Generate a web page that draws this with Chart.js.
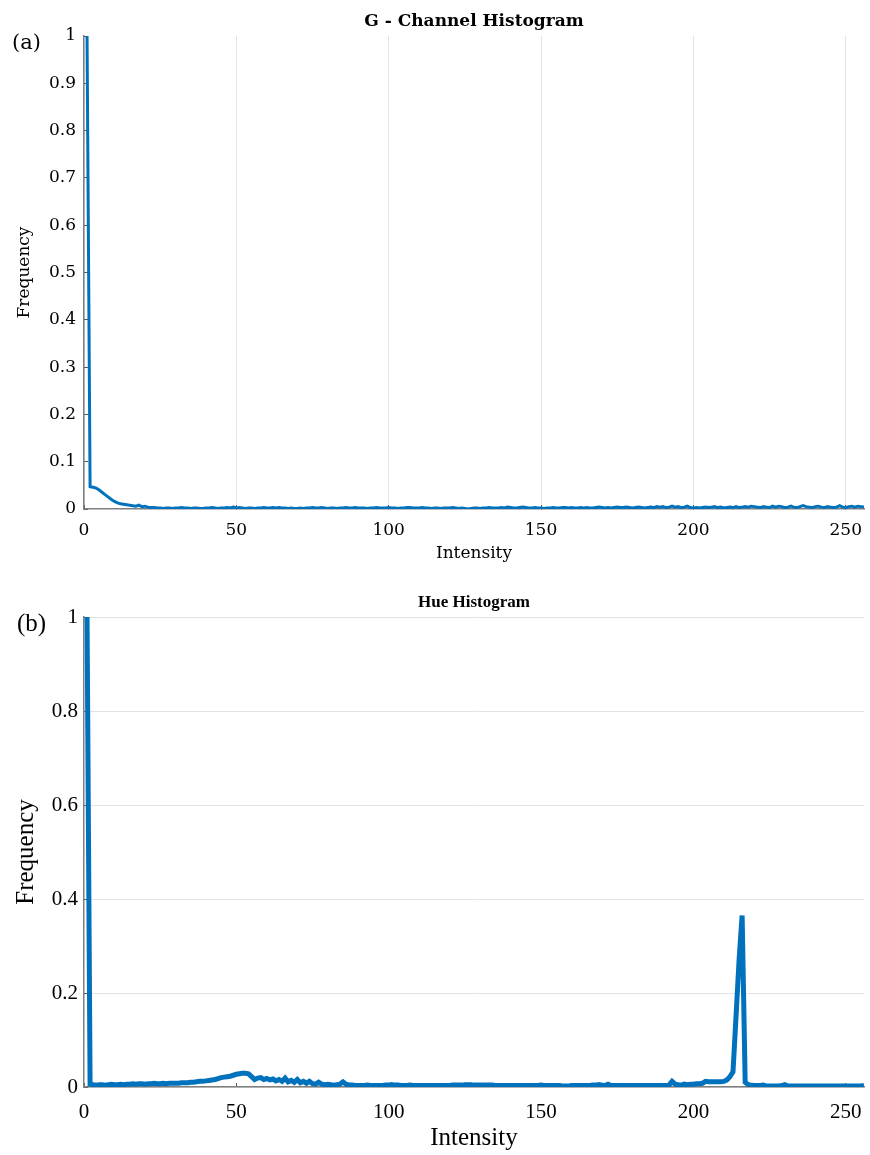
<!DOCTYPE html>
<html>
<head>
<meta charset="utf-8">
<script src="https://cdn.jsdelivr.net/npm/chart.js@4"></script>
<style>
  body { margin: 0; background: #fff; }
  .panel { position: absolute; left: 0; width: 870px; }
</style>
</head>
<body>
<div class="panel" style="top:0;height:575px"><canvas id="chartA" width="870" height="575"></canvas></div>
<div class="panel" style="top:575px;height:580px"><canvas id="chartB" width="870" height="580"></canvas></div>
<script>
// Intensity bins 1..256 (same for both histograms)
const intensity = Array.from({ length: 256 }, (_, i) => i + 1);

// Axis ticks
const xTicks = [0, 50, 100, 150, 200, 250];
const yTicksA = [0, 0.1, 0.2, 0.3, 0.4, 0.5, 0.6, 0.7, 0.8, 0.9, 1];
const yTicksB = [0, 0.2, 0.4, 0.6, 0.8, 1];

// (a) G - Channel histogram, normalised frequency
const gChannel = [
  1.0, 0.047, 0.046, 0.044, 0.04, 0.035, 0.03, 0.025, 0.02, 0.016,
  0.013, 0.011, 0.010, 0.009, 0.008, 0.007, 0.006, 0.008, 0.005, 0.006,
  0.004, 0.003, 0.003, 0.002, 0.002, 0.001, 0.002, 0.002, 0.001, 0.002,
  0.002, 0.003, 0.002, 0.002, 0.001, 0.002, 0.002, 0.001, 0.001, 0.002,
  0.002, 0.003, 0.002, 0.001, 0.002, 0.002, 0.003, 0.002, 0.004, 0.002,
  0.003, 0.002, 0.001, 0.002, 0.002, 0.001, 0.002, 0.002, 0.003, 0.002,
  0.002, 0.003, 0.002, 0.003, 0.002, 0.002, 0.001, 0.002, 0.001, 0.001,
  0.002, 0.001, 0.002, 0.002, 0.003, 0.002, 0.002, 0.003, 0.002, 0.001,
  0.002, 0.002, 0.001, 0.002, 0.002, 0.003, 0.002, 0.002, 0.003, 0.002,
  0.002, 0.002, 0.001, 0.002, 0.002, 0.003, 0.002, 0.002, 0.002, 0.003,
  0.002, 0.002, 0.001, 0.002, 0.002, 0.003, 0.003, 0.002, 0.002, 0.002,
  0.003, 0.002, 0.002, 0.001, 0.002, 0.002, 0.001, 0.002, 0.002, 0.002,
  0.003, 0.002, 0.001, 0.002, 0.001, 0.000, 0.001, 0.002, 0.002, 0.001,
  0.002, 0.002, 0.003, 0.002, 0.002, 0.002, 0.003, 0.002, 0.004, 0.003,
  0.002, 0.002, 0.003, 0.004, 0.003, 0.002, 0.002, 0.003, 0.002, 0.002,
  0.001, 0.002, 0.002, 0.003, 0.002, 0.002, 0.003, 0.003, 0.002, 0.003,
  0.002, 0.002, 0.003, 0.002, 0.003, 0.002, 0.002, 0.003, 0.004, 0.003,
  0.002, 0.003, 0.002, 0.003, 0.004, 0.003, 0.003, 0.004, 0.003, 0.002,
  0.003, 0.004, 0.003, 0.002, 0.003, 0.004, 0.003, 0.005, 0.004, 0.005,
  0.003, 0.004, 0.006, 0.004, 0.005, 0.003, 0.004, 0.006, 0.003, 0.002,
  0.003, 0.002, 0.003, 0.004, 0.003, 0.004, 0.005, 0.003, 0.004, 0.002,
  0.003, 0.004, 0.003, 0.005, 0.003, 0.004, 0.005, 0.004, 0.006, 0.005,
  0.004, 0.003, 0.005, 0.004, 0.003, 0.006, 0.004, 0.006, 0.005, 0.003,
  0.004, 0.006, 0.004, 0.003, 0.005, 0.007, 0.005, 0.004, 0.003, 0.005,
  0.006, 0.004, 0.003, 0.005, 0.004, 0.003, 0.004, 0.007, 0.004, 0.003,
  0.005, 0.006, 0.004, 0.006, 0.005, 0.004
];

// (b) Hue histogram, normalised frequency
const hue = [
  1.0, 0.006, 0.005, 0.004, 0.005, 0.005, 0.004, 0.005, 0.006, 0.005,
  0.005, 0.006, 0.005, 0.006, 0.006, 0.007, 0.006, 0.007, 0.007, 0.006,
  0.007, 0.007, 0.008, 0.007, 0.007, 0.008, 0.007, 0.008, 0.008, 0.008,
  0.008, 0.009, 0.009, 0.009, 0.010, 0.010, 0.011, 0.012, 0.012, 0.013,
  0.014, 0.015, 0.016, 0.018, 0.020, 0.021, 0.022, 0.023, 0.025, 0.027,
  0.028, 0.029, 0.029, 0.028, 0.022, 0.016, 0.019, 0.020, 0.016, 0.018,
  0.015, 0.017, 0.013, 0.016, 0.012, 0.019, 0.011, 0.014, 0.010, 0.016,
  0.009, 0.012, 0.008, 0.012, 0.007, 0.006, 0.010, 0.006, 0.005, 0.006,
  0.005, 0.004, 0.005, 0.006, 0.011, 0.006, 0.004, 0.004, 0.003, 0.003,
  0.003, 0.003, 0.004, 0.003, 0.003, 0.003, 0.003, 0.003, 0.004, 0.004,
  0.005, 0.004, 0.004, 0.003, 0.003, 0.003, 0.004, 0.003, 0.003, 0.003,
  0.003, 0.003, 0.003, 0.003, 0.003, 0.003, 0.003, 0.003, 0.003, 0.003,
  0.004, 0.004, 0.004, 0.004, 0.005, 0.005, 0.005, 0.004, 0.004, 0.004,
  0.004, 0.004, 0.004, 0.004, 0.003, 0.003, 0.003, 0.003, 0.003, 0.003,
  0.003, 0.003, 0.003, 0.003, 0.003, 0.003, 0.003, 0.003, 0.003, 0.004,
  0.003, 0.003, 0.003, 0.003, 0.003, 0.003, 0.002, 0.002, 0.002, 0.003,
  0.003, 0.003, 0.003, 0.003, 0.003, 0.003, 0.004, 0.004, 0.005, 0.004,
  0.003, 0.006, 0.003, 0.003, 0.003, 0.003, 0.003, 0.003, 0.003, 0.003,
  0.003, 0.003, 0.003, 0.003, 0.003, 0.003, 0.003, 0.003, 0.003, 0.003,
  0.003, 0.004, 0.012, 0.006, 0.005, 0.004, 0.006, 0.005, 0.006, 0.006,
  0.007, 0.007, 0.008, 0.012, 0.011, 0.011, 0.011, 0.011, 0.011, 0.012,
  0.015, 0.022, 0.032, 0.15, 0.27, 0.365, 0.010, 0.005, 0.004, 0.003,
  0.003, 0.003, 0.004, 0.002, 0.002, 0.002, 0.002, 0.002, 0.003, 0.005,
  0.002, 0.002, 0.002, 0.002, 0.002, 0.002, 0.002, 0.002, 0.002, 0.002,
  0.002, 0.002, 0.002, 0.002, 0.002, 0.002, 0.002, 0.002, 0.002, 0.002,
  0.002, 0.002, 0.002, 0.002, 0.002, 0.003
];

const lineBlue = '#0072BD';
const axisGray = '#7f7f7f';
const gridGray = '#e3e3e3';

// letter "(a)" / "(b)" in the top left corner
const panelLabel = {
  id: 'panelLabel',
  afterDraw(chart, args, o) {
    const c = chart.ctx;
    c.save();
    c.font = o.font;
    c.fillStyle = '#000';
    c.textBaseline = 'middle';
    c.fillText(o.text, o.x, o.y);
    c.restore();
  }
};

function toPoints(values) {
  return values.map((v, i) => ({ x: intensity[i], y: v }));
}

function makeChart(id, s) {
  return new Chart(document.getElementById(id), {
    type: 'line',
    data: {
      datasets: [{
        data: toPoints(s.values),
        borderColor: lineBlue,
        borderWidth: s.lineWidth,
        pointRadius: 0,
        tension: 0
      }]
    },
    plugins: [panelLabel],
    options: {
      responsive: false,
      animation: false,
      layout: { padding: s.padding },
      plugins: {
        legend: { display: false },
        tooltip: { enabled: false },
        title: {
          display: true,
          fullSize: false,
          text: s.title,
          color: '#000',
          font: { family: s.family, size: s.titleSize, weight: 'bold' },
          padding: s.titlePadding
        },
        panelLabel: s.label
      },
      scales: {
        x: {
          type: 'linear',
          min: 0,
          max: 256,
          afterBuildTicks: (scale) => { scale.ticks = xTicks.map(v => ({ value: v })); },
          afterFit: (scale) => {
            scale.height = s.xHeight;
            // end labels fit inside the layout padding, don't shrink the plot
            scale.paddingLeft = 0;
            scale.paddingRight = 0;
          },
          ticks: {
            color: '#000',
            padding: s.xTickPad,
            maxRotation: 0,
            font: { family: s.family, size: s.tickSize }
          },
          // negative tick length -> small marks pointing into the plot
          grid: {
            drawOnChartArea: s.vGrid,
            drawTicks: true,
            tickLength: -4,
            tickColor: '#555',
            color: gridGray
          },
          border: { display: true, color: axisGray, width: 1.5 },
          title: {
            display: true,
            text: 'Intensity',
            color: '#000',
            padding: 0,
            font: { family: s.family, size: s.axisTitleSize }
          }
        },
        y: {
          min: 0,
          max: 1,
          afterBuildTicks: (scale) => { scale.ticks = s.yTicks.map(v => ({ value: v })); },
          afterFit: (scale) => { scale.width = s.yWidth; },
          ticks: {
            color: '#000',
            padding: s.yTickPad,
            font: { family: s.family, size: s.tickSize },
            callback: (v) => String(v)
          },
          grid: {
            drawOnChartArea: s.hGrid,
            drawTicks: true,
            tickLength: -4,
            tickColor: '#555',
            color: gridGray
          },
          border: { display: true, color: axisGray, width: 1.5 },
          title: {
            display: true,
            text: 'Frequency',
            color: '#000',
            padding: 0,
            font: { family: s.family, size: s.axisTitleSize }
          }
        }
      }
    }
  });
}

makeChart('chartA', {
  values: gChannel,
  title: 'G - Channel Histogram',
  family: '"DejaVu Serif", serif',
  titleSize: 17,
  titlePadding: { top: 11, bottom: 4.6 },
  tickSize: 17,
  axisTitleSize: 17,
  lineWidth: 3,
  padding: { left: 14, right: 6, top: 0, bottom: 11 },
  xHeight: 55,
  yWidth: 70,
  xTickPad: 15,
  yTickPad: 12,
  vGrid: true,
  hGrid: false,
  yTicks: yTicksA,
  label: { text: '(a)', x: 12, y: 44, font: '21px "DejaVu Serif", serif' }
});

makeChart('chartB', {
  values: hue,
  title: 'Hue Histogram',
  family: '"Liberation Serif", serif',
  titleSize: 17,
  titlePadding: { top: 17.8, bottom: 3.8 },
  tickSize: 21,
  axisTitleSize: 25,
  lineWidth: 5,
  padding: { left: 11, right: 6, top: 0, bottom: 2 },
  xHeight: 66,
  yWidth: 73,
  xTickPad: 17,
  yTickPad: 10,
  vGrid: false,
  hGrid: true,
  yTicks: yTicksB,
  label: { text: '(b)', x: 17, y: 49, font: '25px "Liberation Serif", serif' }
});
</script>
</body>
</html>
